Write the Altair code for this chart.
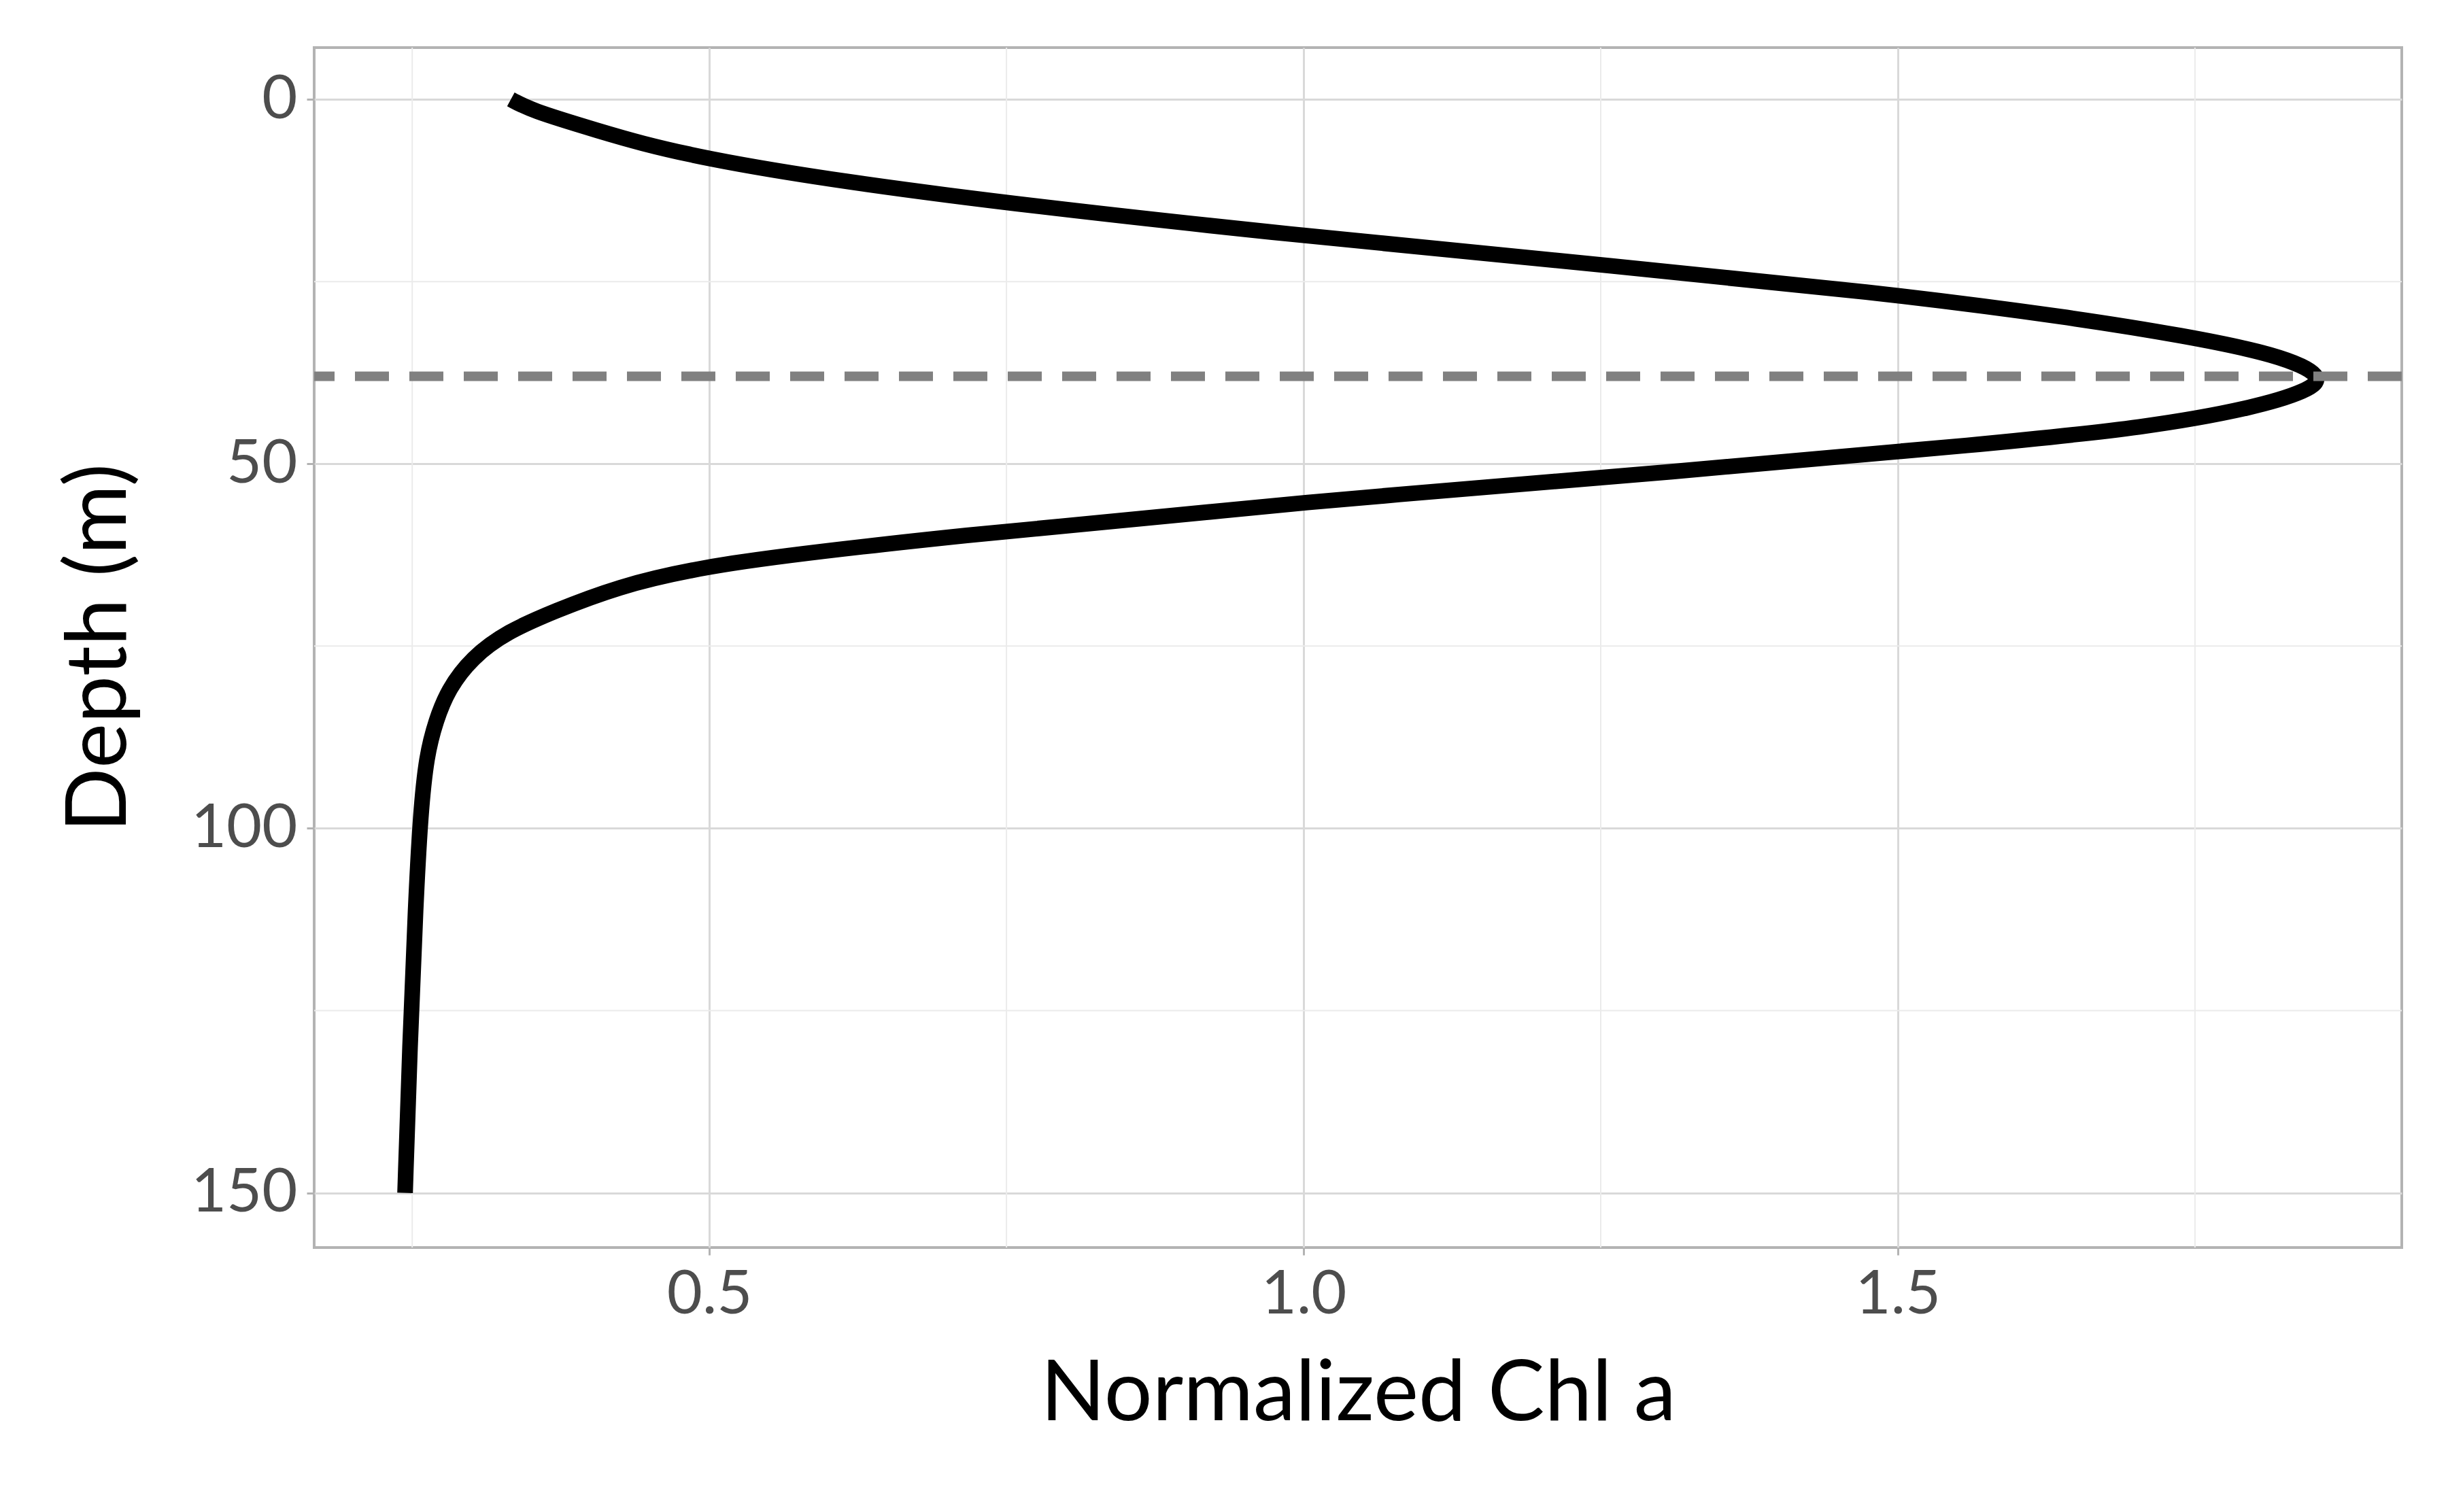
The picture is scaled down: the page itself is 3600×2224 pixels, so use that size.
import pandas as pd
import altair as alt

# profile
depth = [0, 1.5, 4, 8, 13, 18.7, 23, 26.4, 30, 32.4, 35, 38, 40, 42.3, 45, 47.2, 51, 55.2, 60, 63.7, 67, 70.2, 73, 76.6, 81, 85.2, 90, 98, 110, 130, 150]
chl = [0.333, 0.35, 0.40, 0.483, 0.68, 0.995, 1.27, 1.48, 1.65, 1.74, 1.82, 1.86, 1.845, 1.80, 1.71, 1.58, 1.32, 1.0, 0.70, 0.50, 0.42, 0.37, 0.33, 0.30, 0.28, 0.27, 0.262, 0.257, 0.253, 0.248, 0.244]
dcm_depth = 38
minor_x = [0.25, 0.75, 1.25, 1.75]
minor_y = [25, 75, 125]

df = pd.DataFrame({"depth": depth, "chl": chl})
xs = alt.Scale(domain=[0.1675, 1.924], nice=False, zero=False)
ys = alt.Scale(domain=[-7.1, 157.5], nice=False, zero=False, reverse=True)

font = "Lato"
gx = alt.Chart(pd.DataFrame({"v": minor_x})).mark_rule(color="#ebebeb", strokeWidth=2).encode(
    x=alt.X("v:Q", scale=xs))
gy = alt.Chart(pd.DataFrame({"v": minor_y})).mark_rule(color="#ebebeb", strokeWidth=2).encode(
    y=alt.Y("v:Q", scale=ys))

line = alt.Chart(df).mark_line(color="black", strokeWidth=23, interpolate="basis").encode(
    x=alt.X("chl:Q", scale=xs, title="Normalized Chl a",
            axis=alt.Axis(values=[0.5, 1.0, 1.5], format=".1f")),
    y=alt.Y("depth:Q", scale=ys, title="Depth (m)",
            axis=alt.Axis(values=[0, 50, 100, 150])),
    order="depth:Q",
)
dash = alt.Chart(pd.DataFrame({"d": [dcm_depth]})).mark_rule(
    color="#808080", strokeWidth=14, strokeDash=[50, 30]).encode(y=alt.Y("d:Q", scale=ys))

chart = (gx + gy + line + dash).properties(
    width=3070, height=1765, autosize=alt.AutoSizeParams(type="none"),
    padding={"left": 454, "top": 62, "right": 40, "bottom": 300},
).configure_view(stroke="#b3b3b3", strokeWidth=4).configure_axis(
    gridColor="#d9d9d9", gridWidth=3, domain=False, tickColor="#b3b3b3", tickWidth=3,
    tickSize=11, labelFont=font, labelFontSize=90, labelColor="#4d4d4d",
    titleFont=font, titleFontSize=125, titleFontWeight="normal", titleColor="black",
    labelPadding=14,
).configure_axisX(titlePadding=40).configure_axisY(titlePadding=70)

chart.save("out.html", embed_options={"renderer": "svg", "actions": False})
